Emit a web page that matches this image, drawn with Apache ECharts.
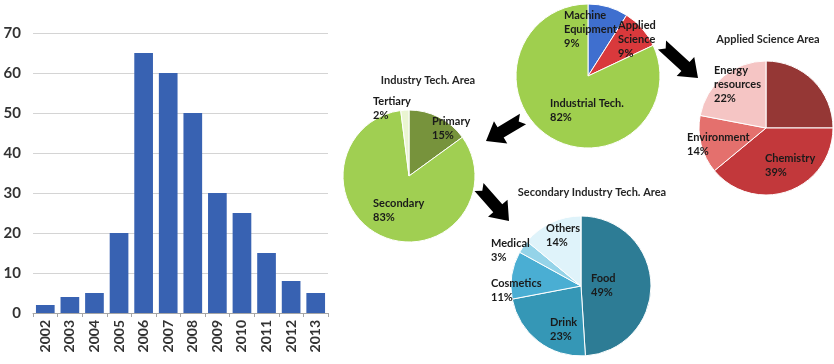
<!DOCTYPE html>
<html><head><meta charset="utf-8">
<script src="https://cdn.jsdelivr.net/npm/echarts@6/dist/echarts.min.js"></script>
<style>html,body{margin:0;padding:0;background:#fff}#c{width:834px;height:364px}</style>
</head><body><div id="c"></div>
<script>
// ---- data ----
const years = ['2002','2003','2004','2005','2006','2007','2008','2009','2010','2011','2012','2013'];
const counts = [2,4,5,20,65,60,50,30,25,15,8,5];
const yTicks = [0,10,20,30,40,50,60,70];

const overviewNames = ['Machine\nEquipment','Applied\nScience','Industrial Tech.'];
const overviewValues = [9,9,82];

const industryTitle = 'Industry Tech. Area';
const industryNames = ['Primary','Secondary','Tertiary'];
const industryValues = [15,83,2];

const appliedTitle = 'Applied Science Area';
const appliedNames = ['Other','Chemistry','Environment','Energy\nresources'];
const appliedValues = [25,39,14,22];

const secondaryTitle = 'Secondary Industry Tech. Area';
const secondaryNames = ['Food','Drink','Cosmetics','Medical','Others'];
const secondaryValues = [49,23,11,3,14];

// ---- styles / layout ----
const FONT = 'Lato';
const overviewColors = ['#3f6fcf','#d9393c','#9fcf4e'];
const industryColors = ['#77933c','#a0cf52','#eaf5d2'];
const appliedColors = ['#953735','#c2383b','#e4706d','#f5c5c4'];
const secondaryColors = ['#2d7c95','#3597b6','#4aaed3','#94d3e8','#dff3fa'];

const overviewLabelPos = [[564,29],[618,39],[550,110]];
const industryLabelPos = [[432,128],[373,210],[373,108]];
const appliedLabelPos = [null,[765,165],[687,144],[714,84]];
const secondaryLabelPos = [[591,285],[550,329],[491,290],[491,250],[546,235]];

function pieSeries(names, values, colors, pos, center, radius){
  return {
    type:'pie', center:center, radius:radius, startAngle:90, clockwise:true,
    silent:true, animation:false,
    itemStyle:{borderColor:'#fff', borderWidth:1},
    label:{show:true, position:'inside', formatter:'{b}\n{c}%', color:'#1a1a1a',
      fontFamily:FONT, fontWeight:'bold', fontSize:11, lineHeight:14, align:'left'},
    labelLine:{show:false},
    labelLayout:function(p){
      const q = pos[p.dataIndex];
      if(!q) return {};
      return {x:q[0], y:q[1], align:'left', verticalAlign:'middle'};
    },
    data: names.map((n,i)=>({name:n, value:values[i], itemStyle:{color:colors[i]},
      label:{show: !!pos[i]}}))
  };
}

function arrowPts(x1,y1,x2,y2){
  const dx=x2-x1, dy=y2-y1, L=Math.hypot(dx,dy);
  const ux=dx/L, uy=dy/L, nx=-uy, ny=ux;
  const hl=17, sw=6, hw=13, notch=5;
  const shape=[[0,-sw],[L-hl,-sw],[L-hl,-hw],[L,0],[L-hl,hw],[L-hl,sw],[0,sw],[notch,0]];
  return shape.map(([a,b])=>[x1+ux*a+nx*b, y1+uy*a+ny*b]);
}
const arrows = [[523,119,486,141],[479,187,509,221],[662,45,698,78]];

const titleStyle = {fontFamily:FONT, fontSize:11, fontWeight:'bold', color:'#262626'};
const chart = echarts.init(document.getElementById('c'), null, {renderer:'canvas'});
chart.setOption({
  animation:false,
  backgroundColor:'#fff',
  title:[
    {text:industryTitle, left:423, top:75, textAlign:'center', textVerticalAlign:'middle', textStyle:titleStyle},
    {text:appliedTitle, left:763, top:34, textAlign:'center', textVerticalAlign:'middle', textStyle:titleStyle},
    {text:secondaryTitle, left:587, top:187, textAlign:'center', textVerticalAlign:'middle', textStyle:titleStyle}
  ],
  grid:{left:33, right:834-328, top:33, bottom:364-313},
  xAxis:{type:'category', data:years, boundaryGap:true,
    axisLine:{lineStyle:{color:'#a6a6a6'}},
    axisTick:{show:true, length:4, lineStyle:{color:'#a6a6a6'}},
    axisLabel:{rotate:90, fontFamily:FONT, fontSize:14, fontWeight:'bold', color:'#333', margin:7}},
  yAxis:{type:'value', min:0, max:70, interval:10,
    axisLine:{show:false}, axisTick:{show:false},
    splitLine:{lineStyle:{color:'#d4d4d4'}},
    axisLabel:{fontFamily:FONT, fontSize:15, fontWeight:'bold', color:'#333', margin:12,
      formatter:v=> yTicks.includes(v)? String(v):''}},
  series:[
    {type:'bar', data:counts, barWidth:'76%', itemStyle:{color:'#3862b2'}, silent:true},
    pieSeries(overviewNames, overviewValues, overviewColors, overviewLabelPos, [588,76], 72),
    pieSeries(industryNames, industryValues, industryColors, industryLabelPos, [409,176], 66),
    pieSeries(appliedNames, appliedValues, appliedColors, appliedLabelPos, [766,128], 67),
    pieSeries(secondaryNames, secondaryValues, secondaryColors, secondaryLabelPos, [581,286], 70)
  ],
  graphic: arrows.map(a=>({type:'polygon', shape:{points:arrowPts(a[0],a[1],a[2],a[3])},
    style:{fill:'#000'}, z:100}))
});
</script></body></html>
